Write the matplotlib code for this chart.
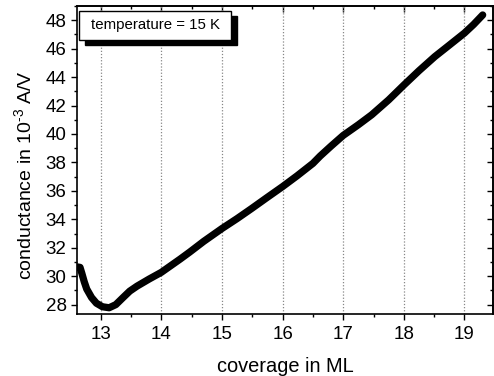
import matplotlib
matplotlib.use("Agg")
import matplotlib.pyplot as plt
from matplotlib.patches import Rectangle
from matplotlib.ticker import MultipleLocator

coverage = [12.62, 12.66, 12.69, 12.73, 12.77, 12.85, 12.93, 13.03, 13.14, 13.25, 13.37, 13.48,
            13.6, 13.8, 14.0, 14.31, 14.47, 14.7, 15.0, 15.25, 15.49, 15.75, 16.0, 16.24,
            16.5, 16.62, 16.8, 17.0, 17.25, 17.47, 17.75, 18.0, 18.25, 18.51, 18.75, 19.0,
            19.15, 19.3]
conductance = [30.65, 30.62, 30.2, 29.6, 29.1, 28.5, 28.1, 27.85, 27.78, 28.0, 28.5, 28.95,
               29.3, 29.8, 30.27, 31.2, 31.7, 32.45, 33.35, 34.05, 34.76, 35.55, 36.3, 37.06,
               37.93, 38.45, 39.15, 39.9, 40.65, 41.35, 42.4, 43.44, 44.45, 45.44, 46.25, 47.1,
               47.7, 48.37]

xlabel_text = "coverage in ML"
ylabel_text = "conductance in 10$^{\\text{-3}}$ A/V"
annot_text = "temperature = 15 K"

plt.rcParams['font.family'] = ['Liberation Sans', 'DejaVu Sans']
plt.rcParams['mathtext.fontset'] = 'custom'
plt.rcParams['mathtext.rm'] = 'Liberation Sans'
plt.rcParams['mathtext.it'] = 'Liberation Sans'

W, H = 494, 376
fig = plt.figure(figsize=(W / 100, H / 100), dpi=100)
ax = fig.add_axes([77 / W, 1 - 314.3 / H, (493.3 - 77) / W, (314.3 - 6) / H])

ax.plot(coverage, conductance, color='black', lw=5.2, solid_capstyle='round',
        solid_joinstyle='round', zorder=3)

ax.set_xlim(12.61, 19.475)
ax.set_ylim(27.32, 49.0)
ax.xaxis.set_major_locator(MultipleLocator(1))
ax.xaxis.set_minor_locator(MultipleLocator(0.5))
ax.yaxis.set_major_locator(MultipleLocator(2))
ax.yaxis.set_minor_locator(MultipleLocator(1))
ax.grid(axis='x', which='major', linestyle=(0, (1, 1.5)), color='#888888', lw=0.9, zorder=0)

ax.tick_params(which='major', direction='out', length=4.5, width=1, labelsize=13.5, pad=3)
ax.tick_params(which='minor', direction='out', length=2.5, width=1)
ax.tick_params(axis='x', which='major', pad=4)
for sp in ax.spines.values():
    sp.set_linewidth(1.2)

top = ax.secondary_xaxis('top')
top.xaxis.set_major_locator(MultipleLocator(1))
top.xaxis.set_minor_locator(MultipleLocator(0.5))
top.tick_params(which='major', direction='in', length=4.5, width=1, labeltop=False)
top.tick_params(which='minor', direction='in', length=2.5, width=1)
top.spines['top'].set_linewidth(1.2)

right = ax.secondary_yaxis('right')
right.yaxis.set_major_locator(MultipleLocator(2))
right.yaxis.set_minor_locator(MultipleLocator(1))
right.tick_params(which='major', direction='in', length=4.5, width=1, labelright=False)
right.tick_params(which='minor', direction='in', length=2.5, width=1)
right.spines['right'].set_linewidth(1.2)

ax.set_xlabel(xlabel_text, fontsize=14.4, labelpad=10)
ax.set_ylabel(ylabel_text, fontsize=14.0)
ax.yaxis.set_label_coords(-0.1, 0.452)

# annotation box with shadow
bx0, by0, bx1, by1 = 79, 11, 231, 40
fig.patches.append(Rectangle(((bx0 + 6) / W, 1 - (by1 + 5) / H), (bx1 - bx0) / W, (by1 - by0) / H,
                             transform=fig.transFigure, facecolor='black', edgecolor='black', zorder=5))
fig.patches.append(Rectangle((bx0 / W, 1 - by1 / H), (bx1 - bx0) / W, (by1 - by0) / H,
                             transform=fig.transFigure, facecolor='white', edgecolor='black',
                             lw=1.0, zorder=6))
fig.text((bx0 + bx1) / 2 / W, 1 - (by0 + by1) / 2 / H, annot_text, ha='center', va='center',
         fontsize=10.8, zorder=7)

fig.savefig("out.png", dpi=100)
